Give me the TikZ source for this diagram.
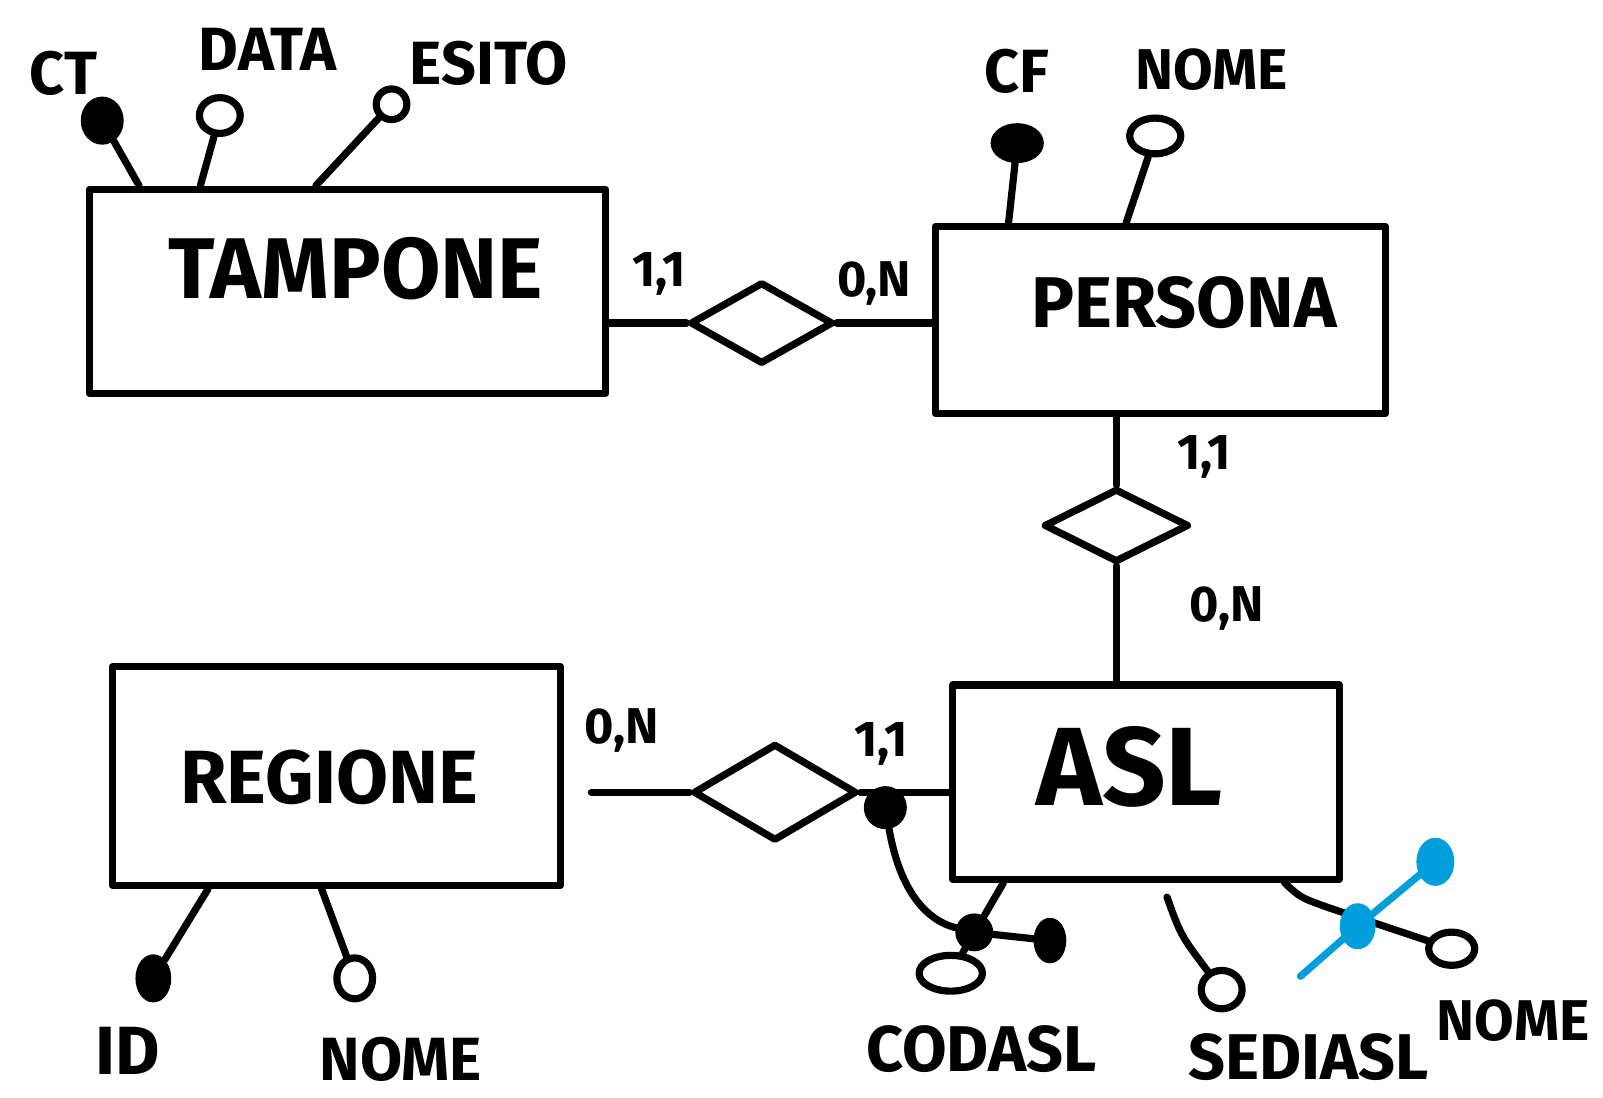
\documentclass[tikz,border=0pt]{standalone}
\usepackage{fontspec}
\setmainfont{Fira Sans}
\usetikzlibrary{shapes.geometric,calc}
\definecolor{idblue}{RGB}{0,158,219}
\begin{document}
\begin{tikzpicture}[x=0.02cm,y=-0.02cm,line width=4pt,line cap=round,line join=round,
  entity/.style={draw,rectangle,inner sep=0pt},
  etext/.style={inner sep=0pt,font=\fontsize{#1}{#1}\selectfont\bfseries},
  rel/.style={draw,diamond,inner sep=0pt},
  keyatt/.style={draw,fill=black,ellipse,inner sep=0pt},
  bluekey/.style={draw=idblue,fill=idblue,ellipse,inner sep=0pt},
  att/.style={draw,ellipse,inner sep=0pt},
  lbl/.style={inner sep=0pt,font=\fontsize{#1}{#1}\selectfont\bfseries},
  card/.style={inner sep=0pt,font=\fontsize{28}{28}\selectfont\bfseries}]
\useasboundingbox (0,0) rectangle (1568,1074);

% entities
\node[entity,minimum width=10.1cm,minimum height=4cm] (tampone) at (340,285) {};
\node[etext=48] (tamponeT) at (348,263) {TAMPONE};
\node[entity,minimum width=8.8cm,minimum height=3.66cm] (persona) at (1135,313) {};
\node[etext=40] (personaT) at (1158,296) {PERSONA};
\node[entity,minimum width=8.76cm,minimum height=4.28cm] (regione) at (329,759) {};
\node[etext=42] (regioneT) at (322,760) {REGIONE};
\node[entity,minimum width=7.56cm,minimum height=3.8cm] (asl) at (1121,765) {};
\node[etext=62] (aslT) at (1105,750) {ASL};

% relationships
\node[rel,minimum width=2.8cm,minimum height=1.6cm] (r1) at (745,316) {};
\node[rel,minimum width=2.84cm,minimum height=1.44cm] (r2) at (1092,514) {};
\node[rel,minimum width=3.2cm,minimum height=1.9cm] (r3) at (758,775) {};

\draw (tampone.east |- r1.west) -- (r1.west);
\draw (r1.east) -- (r1.east -| persona.west);
\draw (persona.south -| r2.north) -- (r2.north);
\draw (r2.south) -- (r2.south |- asl.north);
\draw ($(r3.west -| regione.east)+(27,0)$) -- (r3.west);
\draw (r3.east) -- (r3.east -| asl.west);

% cardinalities
\node[card] (c1) at (645,268) {1,1};
\node[card] (c2) at (855,277) {0,N};
\node[card] (c3) at (1178,447) {1,1};
\node[card] (c4) at (1200,595) {0,N};
\node[card] (c5) at (608,715) {0,N};
\node[card] (c6) at (862,728) {1,1};

% TAMPONE attributes
\node[keyatt,minimum width=0.7cm,minimum height=0.8cm] (ct) at (100,118) {};
\node[att,minimum width=0.8cm,minimum height=0.7cm] (data) at (215,113) {};
\node[att,minimum width=0.6cm,minimum height=0.6cm] (esito) at (383,102) {};
\draw (ct) -- ($(tampone.north west)+(52,0)$);
\draw (data) -- ($(tampone.north west)+(112,0)$);
\draw (esito) -- ($(tampone.north west)+(225,0)$);
\node[lbl=34] (ctT) at (62,72) {CT};
\node[lbl=34] (dataT) at (262,48) {DATA};
\node[lbl=34] (esitoT) at (478,62) {ESITO};

% PERSONA attributes
\node[keyatt,minimum width=0.9cm,minimum height=0.64cm] (cf) at (995,140) {};
\node[att,minimum width=1.0cm,minimum height=0.7cm] (pnome) at (1130,133) {};
\draw (cf) -- ($(persona.north west)+(75,0)$);
\draw (pnome) -- ($(persona.north west)+(190,0)$);
\node[lbl=34] (cfT) at (995,70) {CF};
\node[lbl=32] (pnomeT) at (1185,68) {NOME};

% REGIONE attributes
\node[keyatt,minimum width=0.56cm,minimum height=0.8cm] (rid) at (150,957) {};
\node[att,minimum width=0.7cm,minimum height=0.8cm] (rnome) at (347,957) {};
\draw (rid) -- ($(regione.south west)+(97,0)$);
\draw (rnome) -- ($(regione.south west)+(208,0)$);
\node[lbl=38] (ridT) at (125,1028) {ID};
\node[lbl=34] (rnomeT) at (392,1036) {NOME};

% ASL attributes
\node[att,minimum width=1.24cm,minimum height=0.7cm] (codasl) at (930,952) {};
\draw (codasl) -- ($(asl.south west)+(53,0)$);
\node[keyatt,minimum width=0.7cm,minimum height=0.7cm] (aslid1) at (866,790) {};
\node[keyatt,minimum width=0.6cm,minimum height=0.6cm] (aslj) at (953,912) {};
\node[keyatt,minimum width=0.5cm,minimum height=0.75cm] (aslid2) at (1027,920) {};
\draw (aslid1) .. controls (880,870) and (905,900) .. (aslj) -- (aslid2);

\node[att,minimum width=0.8cm,minimum height=0.75cm] (sedi) at (1195,968) {};
\draw ($(asl.south west)+(213,14)$) .. controls (1155,915) .. (sedi);

\node[att,minimum width=0.9cm,minimum height=0.65cm] (anome) at (1420,928) {};
\coordinate (anomebend) at (1300,888);
\draw ($(asl.south west)+(328,0)$) .. controls (1272,878) .. (anomebend) -- (anome);

\coordinate (bstart) at (1272,955);
\node[bluekey,minimum width=0.56cm,minimum height=0.76cm] (b1) at (1328,906) {};
\node[bluekey,minimum width=0.6cm,minimum height=0.8cm] (b2) at (1404,843) {};
\draw[idblue] (bstart) -- (b1) -- (b2);

\node[lbl=36] (codaslT) at (960,1026) {CODASL};
\node[lbl=36] (sediT) at (1280,1034) {SEDIASL};
\node[lbl=32] (anomeT) at (1480,998) {NOME};
\end{tikzpicture}
\end{document}
